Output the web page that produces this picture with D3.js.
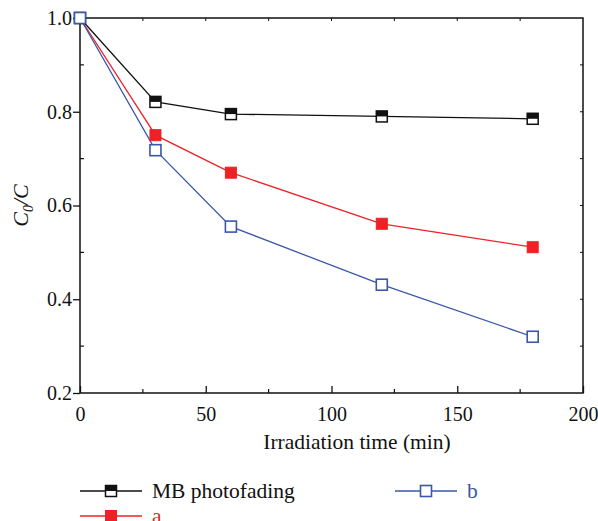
<!DOCTYPE html>
<html><head><meta charset="utf-8">
<script src="https://cdn.jsdelivr.net/npm/d3@7"></script>
<style>body{margin:0;background:#fff}svg{display:block}text{font-family:"Liberation Serif","DejaVu Serif",serif}</style>
</head><body>
<svg id="c" width="598" height="521"></svg>
<script>
const times = [0, 30, 60, 120, 180];
const mbPhotofading = [1.0, 0.821, 0.795, 0.79, 0.785];
const seriesA = [1.0, 0.75, 0.67, 0.561, 0.511];
const seriesB = [1.0, 0.718, 0.555, 0.431, 0.32];
const xTicks = [0, 50, 100, 150, 200];
const yTicks = [0.2, 0.4, 0.6, 0.8, 1.0];
const xMinor = [25, 75, 125, 175];
const yMinor = [0.3, 0.5, 0.7, 0.9];

const svg = d3.select("#c");
const L = 80, R = 583, T = 18, B = 393;
const x = d3.scaleLinear().domain([0, 200]).range([L, R]);
const y = d3.scaleLinear().domain([0.2, 1.0]).range([B, T]);
const black = "#111", red = "#ec2227", blue = "#3a57a8";

// frame
svg.append("rect").attr("x", L).attr("y", T).attr("width", R - L).attr("height", B - T)
  .attr("fill", "none").attr("stroke", black).attr("stroke-width", 1.5);

// bottom axis
const gx = svg.append("g").attr("transform", `translate(0,${B})`)
  .call(d3.axisBottom(x).tickValues(xTicks).tickSize(-7).tickPadding(14).tickFormat(d3.format("d")));
gx.select(".domain").remove();
gx.selectAll("line").attr("stroke", black).attr("stroke-width", 1.3);
gx.selectAll("text").attr("font-size", 20).attr("fill", black);
gx.selectAll(".minor").data(xMinor).enter().append("line")
  .attr("x1", d => x(d)).attr("x2", d => x(d)).attr("y1", 0).attr("y2", -4)
  .attr("stroke", black).attr("stroke-width", 1.2);

// left axis
const gy = svg.append("g").attr("transform", `translate(${L},0)`)
  .call(d3.axisLeft(y).tickValues(yTicks).tickSize(7).tickPadding(1).tickFormat(d3.format(".1f")));
gy.select(".domain").remove();
gy.selectAll("line").attr("stroke", black).attr("stroke-width", 1.3);
gy.selectAll("text").attr("font-size", 20).attr("fill", black);
gy.selectAll(".minor").data(yMinor).enter().append("line")
  .attr("x1", 0).attr("x2", 4).attr("y1", d => y(d)).attr("y2", d => y(d))
  .attr("stroke", black).attr("stroke-width", 1.2);

// top & right small ticks
svg.append("g").selectAll("line").data(xTicks.slice(1, -1).concat(xMinor)).enter().append("line")
  .attr("x1", d => x(d)).attr("x2", d => x(d)).attr("y1", T).attr("y2", T + 3)
  .attr("stroke", black).attr("stroke-width", 1);
svg.append("g").selectAll("line").data(yTicks.slice(1, -1).concat(yMinor)).enter().append("line")
  .attr("x1", R).attr("x2", R - 3).attr("y1", d => y(d)).attr("y2", d => y(d))
  .attr("stroke", black).attr("stroke-width", 1);

// labels
svg.append("text").attr("x", 357).attr("y", 449).attr("text-anchor", "middle")
  .attr("font-size", 21.5).attr("fill", black).text("Irradiation time (min)");
const yl = svg.append("text").attr("transform", `translate(28,${(T + B) / 2}) rotate(-90)`)
  .attr("text-anchor", "middle").attr("font-size", 22).attr("font-style", "italic").attr("fill", black);
yl.append("tspan").text("C");
yl.append("tspan").attr("font-size", 14).attr("dy", 5).text("0");
yl.append("tspan").attr("dy", -5).text("/C");

const line = d3.line().x((d, i) => x(times[i])).y(d => y(d));
const S = 11;
function marker(g, cx, cy, type, color) {
  if (type === "half") {
    g.append("rect").attr("x", cx - S / 2).attr("y", cy - S / 2).attr("width", S).attr("height", S)
      .attr("fill", "#fff").attr("stroke", color).attr("stroke-width", 1.5);
    g.append("rect").attr("x", cx - S / 2).attr("y", cy - S / 2).attr("width", S).attr("height", S / 2)
      .attr("fill", color);
  } else if (type === "filled") {
    g.append("rect").attr("x", cx - S / 2).attr("y", cy - S / 2).attr("width", S).attr("height", S)
      .attr("fill", color).attr("stroke", color).attr("stroke-width", 1);
  } else {
    g.append("rect").attr("x", cx - S / 2).attr("y", cy - S / 2).attr("width", S).attr("height", S)
      .attr("fill", "#fff").attr("stroke", color).attr("stroke-width", 1.6);
  }
}
const series = [
  {vals: mbPhotofading, color: black, type: "half", name: "MB photofading", lx: 80, ly: 491},
  {vals: seriesA, color: red, type: "filled", name: "a", lx: 80, ly: 516},
  {vals: seriesB, color: blue, type: "open", name: "b", lx: 395, ly: 491},
];
series.forEach(s => {
  svg.append("path").datum(s.vals).attr("d", line).attr("fill", "none")
    .attr("stroke", s.color).attr("stroke-width", 1.3);
});
series.forEach(s => {
  const g = svg.append("g");
  s.vals.forEach((v, i) => marker(g, x(times[i]), y(v), s.type, s.color));
});
// legend
series.forEach(s => {
  svg.append("line").attr("x1", s.lx).attr("x2", s.lx + 62).attr("y1", s.ly).attr("y2", s.ly)
    .attr("stroke", s.color).attr("stroke-width", 1.3);
  marker(svg.append("g"), s.lx + 31, s.ly, s.type, s.color);
  svg.append("text").attr("x", s.lx + 72).attr("y", s.ly + 7).attr("font-size", 21.5)
    .attr("fill", s.color).text(s.name);
});
</script>
</body></html>
